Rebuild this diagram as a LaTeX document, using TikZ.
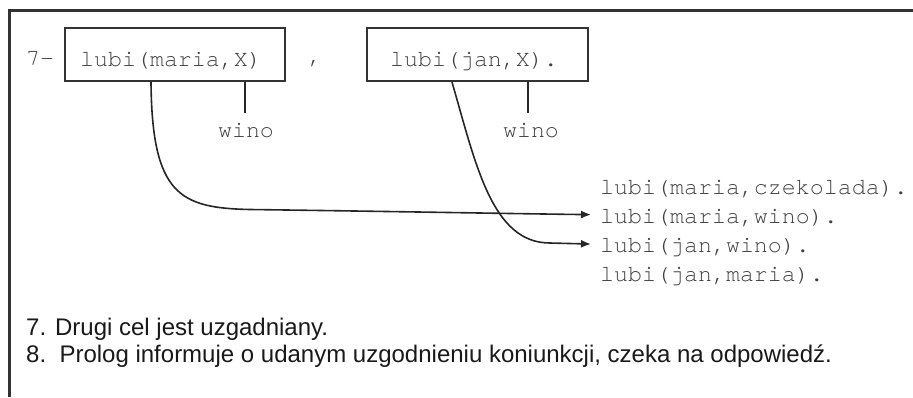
\documentclass[tikz,border=0pt]{standalone}
\usepackage{fontspec}
\setmainfont{Liberation Sans}
\setmonofont{TeX Gyre Cursor}
\usetikzlibrary{arrows.meta}
\begin{document}
\begin{tikzpicture}[x=1pt,y=-1pt,
  box/.style={draw=black!80, line width=2.2pt, inner sep=0pt},
  code/.style={font=\fontsize{23.3}{28}\selectfont\ttfamily, text=black!75, inner sep=0pt, anchor=base west},
  fact/.style={code, inner xsep=9pt},
  note/.style={font=\fontsize{24}{28}\selectfont, text=black!90, inner sep=0pt, anchor=base west},
  conn/.style={line width=1.6pt, draw=black!85},
  arr/.style={conn, -{Latex[length=10pt,width=8pt]}}]
\useasboundingbox (0,0) rectangle (913,397);
\draw[line width=3pt, black!80] (9,397) -- (9,10.5) -- (913,10.5);

% goal boxes
\node[box, minimum width=220pt, minimum height=53pt] (b1) at (175,54.5) {};
\node[box, minimum width=221pt, minimum height=53pt] (b2) at (477.5,54.5) {};
\node[code, anchor=base] (t1) at (171,66) {lubi(maria,X)};
\node[code, anchor=base] (t2) at (474,66) {lubi(jan,X).};
\node[code] (q) at (26,65) {7-};
\node[code, anchor=base] (comma) at (315,63) {,};

% bindings
\node[code, anchor=base] (w1) at (246,137) {wino};
\node[code, anchor=base] (w2) at (531,137) {wino};
\draw[conn] (b1.south -| 245,0) -- ([yshift=10pt]w1.north -| 245,0);
\draw[conn] (b2.south -| 528,0) -- ([yshift=10pt]w2.north -| 528,0);

% facts
\node[fact] (f1) at (591,194) {lubi(maria,czekolada).};
\node[fact] (f2) at (591,223) {lubi(maria,wino).};
\node[fact] (f3) at (591,252) {lubi(jan,wino).};
\node[fact] (f4) at (591,281) {lubi(jan,maria).};

% matching arrows
\draw[arr] (b1.south -| 151,0) .. controls (152,195) and (180,208) .. (250,209.5)
  .. controls (400,211.5) and (500,213.5) .. ([yshift=3pt]f2.west);
\draw[arr] (b2.south -| 452,0) .. controls (476,165) and (492,243) .. (550,243)
  -- ([yshift=3pt]f3.west);

% notes
\node[note] (n7) at (26,335) {7. Drugi cel jest uzgadniany.};
\node[note] (n8) at (26,362) {8.\ \ Prolog informuje o udanym uzgodnieniu koniunkcji, czeka na odpowiedź.};
\end{tikzpicture}
\end{document}
